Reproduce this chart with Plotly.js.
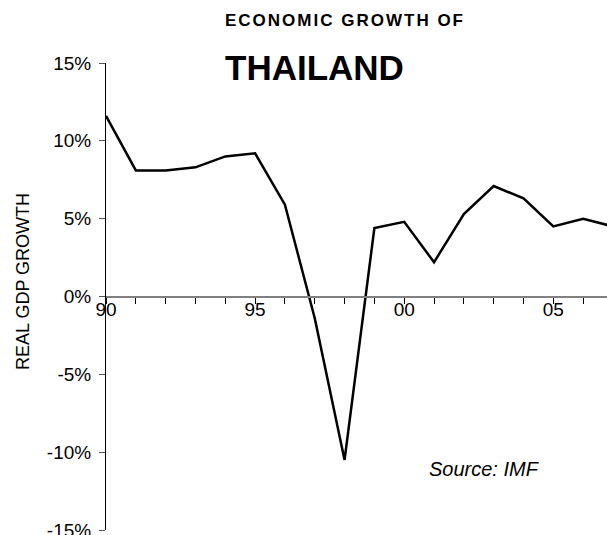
<!DOCTYPE html>
<html>
<head>
<meta charset="utf-8">
<script src="https://cdn.plot.ly/plotly-3.0.1.min.js"></script>
<style>html,body{margin:0;padding:0;background:#fff;}#chart{width:607px;height:535px;}</style>
</head>
<body>
<div id="chart"></div>
<script>
const years = [1990,1991,1992,1993,1994,1995,1996,1997,1998,1999,2000,2001,2002,2003,2004,2005,2006,2007];
const gdpGrowth = [11.6,8.1,8.1,8.3,9.0,9.2,5.9,-1.4,-10.5,4.4,4.8,2.2,5.3,7.1,6.3,4.5,5.0,4.5];
const yTickVals = [-15,-10,-5,0,5,10,15];
const yTickText = ['-15%','-10%','-5%','0%','5%','10%','15%'];
const xTickVals = [1990,1995,2000,2005];
const xTickText = ['90','95','00','05'];

const FONT = 'Liberation Sans, Arial, sans-serif';

const trace = {
  x: years, y: gdpGrowth, type: 'scatter', mode: 'lines',
  line: {color: '#000000', width: 2.5}, hoverinfo: 'skip'
};

const layout = {
  width: 607, height: 535,
  margin: {l: 106, r: 0, t: 63, b: 5, pad: 0},
  paper_bgcolor: '#ffffff', plot_bgcolor: '#ffffff',
  showlegend: false,
  font: {family: FONT, size: 19, color: '#000'},
  xaxis: {
    range: [1990, 2006.8],
    anchor: 'free', position: 0.5,
    showline: true, linecolor: '#808080', linewidth: 2,
    showgrid: false, zeroline: false,
    ticks: 'outside', ticklen: 6, tickwidth: 1, tickcolor: '#000',
    tickvals: xTickVals, ticktext: xTickText,
    ticklabelstandoff: -10,
    tickfont: {family: FONT, size: 19, color: '#000'},
    minor: {tick0: 1990, dtick: 1, ticks: 'outside', ticklen: 6, tickwidth: 1, tickcolor: '#000', showgrid: false}
  },
  yaxis: {
    range: [-15, 15],
    showline: true, linecolor: '#000', linewidth: 1,
    showgrid: false, zeroline: false,
    ticks: 'outside', ticklen: 6, tickwidth: 1, tickcolor: '#555',
    tickvals: yTickVals, ticktext: yTickText,
    ticklabelstandoff: 4,
    ticklabeloverflow: 'allow',
    tickfont: {family: FONT, size: 19, color: '#000'}
  },
  annotations: [
    {text: '<b><span style="letter-spacing:2px">ECONOMIC GROWTH OF</span></b>', xref: 'paper', yref: 'paper', x: 0.233, y: 1.092,
     xanchor: 'left', yanchor: 'middle', showarrow: false, font: {family: FONT, size: 17, color: '#000'}},
    {text: '<b>THAILAND</b>', xref: 'paper', yref: 'paper', x: 0.233, y: 0.991,
     xanchor: 'left', yanchor: 'middle', showarrow: false, font: {family: FONT, size: 35, color: '#000'}},
    {text: 'REAL GDP GROWTH', xref: 'paper', yref: 'paper', x: -0.166, y: 0.533,
     xanchor: 'center', yanchor: 'middle', textangle: -90, showarrow: false, font: {family: FONT, size: 18, color: '#000'}},
    {text: '<i>Source: IMF</i>', xref: 'paper', yref: 'paper', x: 0.755, y: 0.13,
     xanchor: 'center', yanchor: 'middle', showarrow: false, font: {family: FONT, size: 20, color: '#000'}}
  ]
};

Plotly.newPlot('chart', [trace], layout, {staticPlot: true, displayModeBar: false});
</script>
</body>
</html>
